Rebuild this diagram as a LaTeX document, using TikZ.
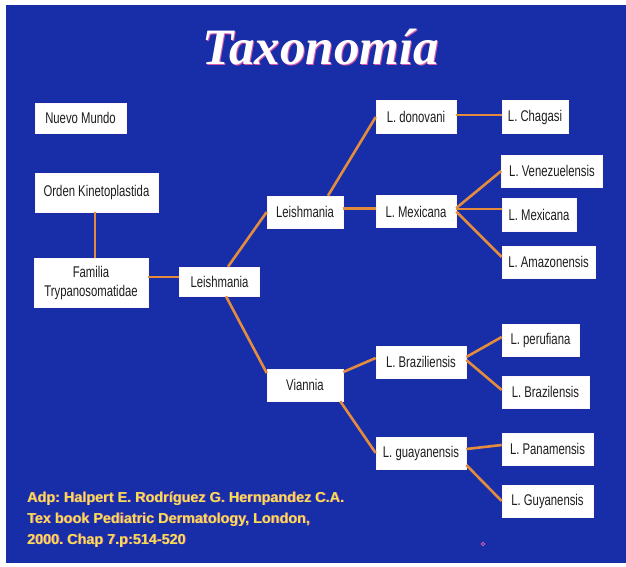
\documentclass[tikz,border=0pt]{standalone}
\usepackage{fontspec}
\setmainfont{Liberation Sans}
\newfontfamily\boxfont[FakeStretch=0.73]{Liberation Sans}
\newfontfamily\titlefont{Liberation Serif}
\definecolor{bgblue}{RGB}{24,46,168}
\definecolor{lineor}{RGB}{228,140,62}
\definecolor{footy}{RGB}{238,228,80}
\definecolor{shadowpk}{RGB}{220,90,170}
\definecolor{boxtxt}{RGB}{30,30,30}
\frenchspacing
\begin{document}
\begin{tikzpicture}[x=1pt,y=-1pt,
  tbox/.style={fill=white, draw=white!85!pink, line width=0.6pt, inner sep=0pt,
    text=boxtxt, font=\boxfont\fontsize{15.5}{19}\selectfont, align=center},
  conn/.style={draw=lineor, line width=2.6pt},
  titletxt/.style={inner sep=0pt, font=\titlefont\bfseries\itshape\fontsize{51}{55}\selectfont},
  foottxt/.style={inner sep=0pt, font=\bfseries\fontsize{14.4}{18}\selectfont}
]
\useasboundingbox (0,0) rectangle (626,566);
\fill[white] (0,0) rectangle (626,566);
\fill[bgblue] (6,5) rectangle (626,563);

% title
\node[titletxt, text=shadowpk, anchor=base] (titlesh) at (322,65) {Taxonomía};
\node[titletxt, text=white, anchor=base] (title) at (321,64) {Taxonomía};

% boxes
\node[tbox, minimum width=91, minimum height=30] (nuevo) at (80.5,118) {Nuevo Mundo};
\node[tbox, minimum width=123, minimum height=39] (orden) at (96.5,192.5) {Orden Kinetoplastida};
\node[tbox, minimum width=114, minimum height=49] (familia) at (91,282.5) {Familia\\[0pt]Trypanosomatidae};
\node[tbox, minimum width=80, minimum height=29] (lei2) at (219.5,281.5) {Leishmania};
\node[tbox, minimum width=76, minimum height=32] (lei3) at (305,212) {Leishmania};
\node[tbox, minimum width=76, minimum height=32] (viannia) at (305,385) {Viannia};
\node[tbox, minimum width=80, minimum height=33] (donovani) at (416,117) {L. donovani};
\node[tbox, minimum width=66, minimum height=33] (chagasi) at (535,117) {L. Chagasi};
\node[tbox, minimum width=80, minimum height=32] (mex4) at (416,211.5) {L. Mexicana};
\node[tbox, minimum width=101, minimum height=32] (venez) at (552,171) {L. Venezuelensis};
\node[tbox, minimum width=74, minimum height=33] (mex5) at (539,214.5) {L. Mexicana};
\node[tbox, minimum width=93, minimum height=32] (amaz) at (548.5,262) {L. Amazonensis};
\node[tbox, minimum width=90, minimum height=32] (braz4) at (421,362) {L. Braziliensis};
\node[tbox, minimum width=77, minimum height=32] (peru) at (540.5,340) {L. perufiana};
\node[tbox, minimum width=87, minimum height=32] (braz5) at (545.5,392) {L. Brazilensis};
\node[tbox, minimum width=90, minimum height=32] (guay) at (421,453) {L. guayanensis};
\node[tbox, minimum width=91, minimum height=32] (panam) at (547.5,449) {L. Panamensis};
\node[tbox, minimum width=91, minimum height=32] (guyan) at (547.5,501) {L. Guyanensis};

% connectors
\draw[conn] ([xshift=-1.5]orden.south) -- ([xshift=4]familia.north);
\draw[conn] ([yshift=5.5]familia.east) -- ([yshift=4.5]lei2.west);
\draw[conn] ([xshift=8.5]lei2.north) -- (lei3.west);
\draw[conn] ([xshift=6.5]lei2.south) -- ([yshift=12]viannia.west);
\draw[conn] ([xshift=23]lei3.north) -- (donovani.west);
\draw[conn] ([yshift=3.5]lei3.east) -- ([yshift=3]mex4.west);
\draw[conn] ([yshift=2]donovani.east) -- ([yshift=2]chagasi.west);
\draw[conn] ([yshift=3.5]mex4.east) -- (venez.west);
\draw[conn] ([yshift=2.5]mex4.east) -- ([yshift=5.5]mex5.west);
\draw[conn] (mex4.east) -- ([yshift=5]amaz.west);
\draw[conn] ([yshift=13]viannia.east) -- ([yshift=4]braz4.west);
\draw[conn] ([xshift=-3]viannia.south east) -- (guay.west);
\draw[conn] ([yshift=5]braz4.east) -- ([yshift=3]peru.west);
\draw[conn] ([yshift=2]braz4.east) -- ([yshift=2]braz5.west);
\draw[conn] ([yshift=4]guay.east) -- ([yshift=4]panam.west);
\draw[conn] ([yshift=-12]guay.east) -- (guyan.west);

% footer
\node[foottxt, text=shadowpk, anchor=base west] (foot1s) at (27.8,502.8) {Adp: Halpert E. Rodríguez G. Hernpandez C.A.};
\node[foottxt, text=footy, anchor=base west] (foot1) at (27,502) {Adp: Halpert E. Rodríguez G. Hernpandez C.A.};
\node[foottxt, text=shadowpk, anchor=base west] (foot2s) at (27.8,523.8) {Tex book Pediatric Dermatology, London,};
\node[foottxt, text=footy, anchor=base west] (foot2) at (27,523) {Tex book Pediatric Dermatology, London,};
\node[foottxt, text=shadowpk, anchor=base west] (foot3s) at (27.8,544.8) {2000. Chap 7.p:514-520};
\node[foottxt, text=footy, anchor=base west] (foot3) at (27,544) {2000. Chap 7.p:514-520};

% small mark
\draw[shadowpk, line width=0.8pt] (483,544) circle (1.8);
\end{tikzpicture}
\end{document}
